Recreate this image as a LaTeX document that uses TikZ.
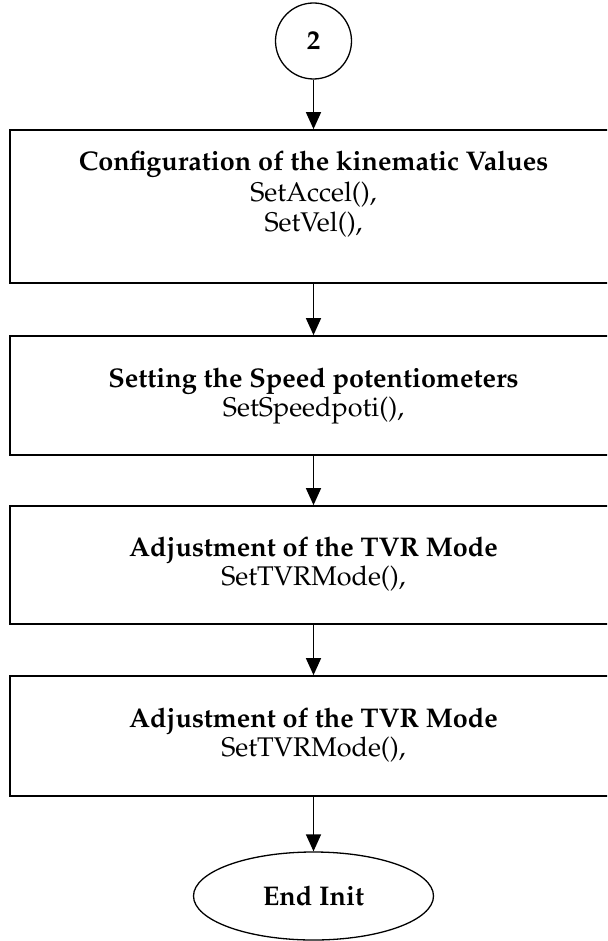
\documentclass[tikz,border=0pt]{standalone}
\usepackage[T1]{fontenc}
\usepackage{mathpazo}
\usetikzlibrary{arrows.meta,shapes.geometric}
\begin{document}
\begin{tikzpicture}[x=1pt,y=-1pt,
  every node/.style={font=\fontsize{27}{31}\selectfont},
  flowbox/.style={draw, rectangle, line width=1.7pt, inner sep=0pt,
    minimum width=607pt},
  flowline/.style={anchor=base, inner sep=0pt},
  flowhead/.style={flowline, font=\fontsize{27}{31}\selectfont\bfseries},
  flowarrow/.style={line width=1.4pt, -{Triangle[width=15pt,length=17pt]}},
  connector/.style={draw, circle, line width=1.3pt, minimum size=76pt, inner sep=0pt,
    font=\fontsize{27}{31}\selectfont\bfseries},
  terminal/.style={draw, ellipse, line width=1.3pt, minimum width=240pt,
    minimum height=88pt, inner sep=0pt, font=\fontsize{27}{31}\selectfont\bfseries}]
\useasboundingbox (0,0) rectangle (607,941);
\clip (0,0) rectangle (607,941);

% start connector
\node[connector] (c2) at (313.5,41) {2};

% process boxes
\node[flowbox, minimum height=153pt] (b1) at (313.5,206.5) {};
\node[flowbox, minimum height=119pt] (b2) at (313.5,395.5) {};
\node[flowbox, minimum height=118pt] (b3) at (313.5,565) {};
\node[flowbox, minimum height=120pt] (b4) at (313.5,736) {};

% box texts
\node[flowhead] (t1a) at (313.5,171) {Configuration of the kinematic Values};
\node[flowline] (t1b) at (313.5,202) {SetAccel(),};
\node[flowline] (t1c) at (313.5,231) {SetVel(),};

\node[flowhead] (t2a) at (313.5,387) {Setting the Speed potentiometers};
\node[flowline] (t2b) at (313.5,416) {SetSpeedpoti(),};

\node[flowhead] (t3a) at (313.5,556) {Adjustment of the TVR Mode};
\node[flowline] (t3b) at (313.5,585) {SetTVRMode(),};

\node[flowhead] (t4a) at (313.5,727) {Adjustment of the TVR Mode};
\node[flowline] (t4b) at (313.5,756) {SetTVRMode(),};

% end terminal
\node[terminal] (end) at (313.5,896) {End Init};

% connectors
\draw[flowarrow] (c2) -- (b1);
\draw[flowarrow] (b1) -- (b2);
\draw[flowarrow] (b2) -- (b3);
\draw[flowarrow] (b3) -- (b4);
\draw[flowarrow] (b4) -- (end);
\end{tikzpicture}
\end{document}
